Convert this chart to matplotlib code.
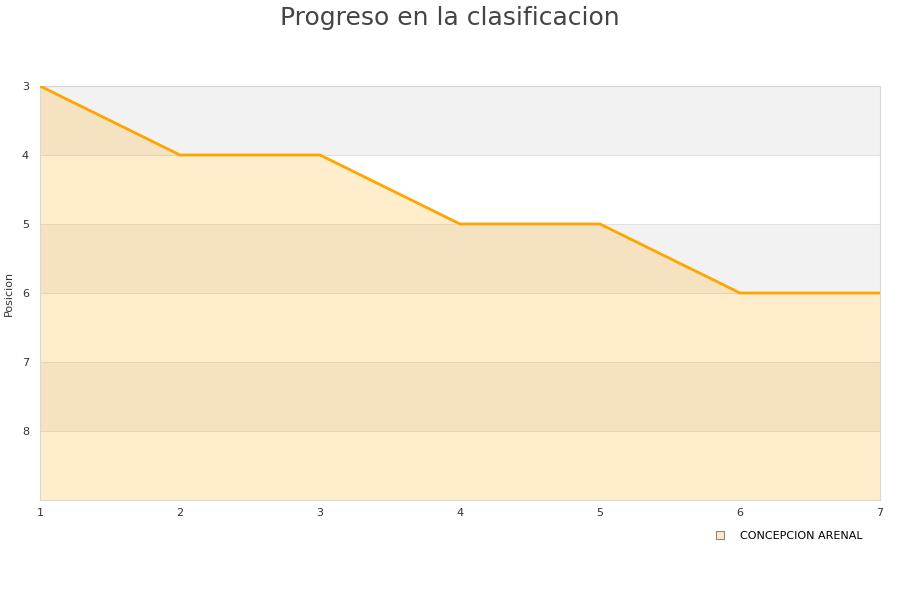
import matplotlib
matplotlib.use("Agg")
import matplotlib.pyplot as plt

JORNADAS = [1, 2, 3, 4, 5, 6, 7]
POSICION = [3, 4, 4, 5, 5, 6, 6]
Y_TICKS = [3, 4, 5, 6, 7, 8]
TEAM = "CONCEPCION ARENAL"
LINE_COLOR = "#FFA500"

def main():
    fig = plt.figure(figsize=(9, 6), dpi=100)
    ax = fig.add_axes([40 / 900, 100 / 600, 840 / 900, 414 / 600])

    # alternating horizontal bands
    for lo in range(3, 9):
        if lo % 2 == 1:
            ax.axhspan(lo, lo + 1, color="#f2f2f2", zorder=0, lw=0)
    for y in Y_TICKS[1:]:
        ax.axhline(y, color="#e0e0e0", lw=0.8, zorder=1)

    ax.fill_between(JORNADAS, POSICION, 9, color=LINE_COLOR, alpha=0.2,
                    lw=0, zorder=2)
    ax.plot(JORNADAS, POSICION, color=LINE_COLOR, lw=2, zorder=3)

    ax.set_xlim(1, 7)
    ax.set_ylim(9, 3)
    ax.set_xticks(JORNADAS)
    ax.set_yticks(Y_TICKS)
    ax.tick_params(length=0, labelsize=8, colors="#333333")
    ax.tick_params(axis="x", pad=6)
    ax.tick_params(axis="y", pad=8)
    for s in ax.spines.values():
        s.set_color("#d8d8d8")
    ax.set_ylabel("Posicion", fontsize=8, color="#333333", labelpad=6)

    fig.suptitle("Progreso en la clasificacion", fontsize=18, color="#444444",
                 y=0.99)

    h = plt.Line2D([], [], marker="s", ls="", markersize=6,
                   markerfacecolor="#FFE9C4", markeredgecolor="#888888",
                   markeredgewidth=0.8)
    fig.legend([h], [TEAM], loc="center right", bbox_to_anchor=(873 / 900, 1 - 536 / 600),
               frameon=False, fontsize=8, handletextpad=0.8)

    fig.savefig("out.png", dpi=100)
    plt.close(fig)

if __name__ == "__main__":
    main()
